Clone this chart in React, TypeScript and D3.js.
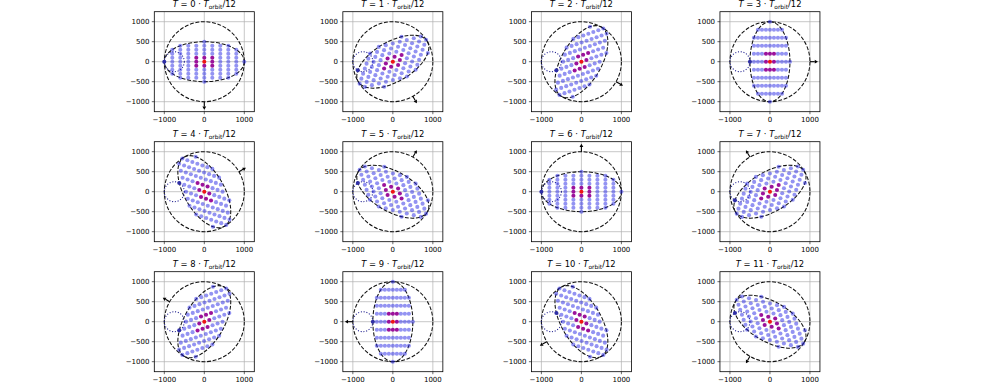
import React from 'react';
import * as d3 from 'd3';

// snapshots: T = k * T_orbit / 12
const steps = [0, 1, 2, 3, 4, 5, 6, 7, 8, 9, 10, 11];
// orientation of the tidal bulge (major axis), degrees
const bulgeAngleDeg = [0, 30, 60, 90, 120, 150, 180, 210, 240, 270, 300, 330];
// direction of the arrow on the big circle, degrees
const arrowAngleDeg = [-90, -60, -30, 0, 30, 60, 90, 120, 150, 180, 210, 240];

// reference lattice of material points (inside the undeformed circle)
const latticeX = [-1000, -800, -600, -400, -200, 0, 200, 400, 600, 800, 1000];
const latticeY = [-1000, -800, -600, -400, -200, 0, 200, 400, 600, 800, 1000];
const bodyRadius = 1000;
const semiMajor = 1000;
const semiMinor = 500;
const tracerPoint = [-1000, 0];
const coreHalf = 200;

const arrowInner = 1000;
const arrowOuter = 1200;

const xTicks = [-1000, 0, 1000];
const yTicks = [-1000, -500, 0, 500, 1000];
const axisDomain = [-1250, 1250];

const W = 988;
const H = 392;
const panelSize = 100;
const left0 = 154.3;
const colStep = 188.55;
const top0 = 11.7;
const rowStep = 130;

const FONT = 'DejaVu Sans, sans-serif';
const minus = (v: number) => (v < 0 ? '\u2212' + Math.abs(v) : String(v));

const s = (semiMajor + semiMinor) / (2 * bodyRadius);
const e = (semiMajor - semiMinor) / (2 * bodyRadius);

const refPoints: { x: number; y: number; kind: string }[] = [];
latticeX.forEach((x) =>
  latticeY.forEach((y) => {
    if (x * x + y * y <= bodyRadius * bodyRadius + 1) {
      let kind = 'body';
      if (x === 0 && y === 0) kind = 'center';
      else if (Math.abs(x) <= coreHalf && Math.abs(y) <= coreHalf) kind = 'core';
      else if (x === tracerPoint[0] && y === tracerPoint[1]) kind = 'tracer';
      refPoints.push({ x, y, kind });
    }
  })
);
const order: Record<string, number> = { body: 0, core: 1, center: 2, tracer: 3 };
refPoints.sort((a, b) => order[a.kind] - order[b.kind]);

const dotColor: Record<string, string> = {
  body: 'rgba(40,40,230,0.5)',
  core: '#9b129b',
  center: '#ee1515',
  tracer: '#2e2ea6',
};

function deform(x: number, y: number, thetaDeg: number) {
  const t = (2 * thetaDeg * Math.PI) / 180;
  const c = Math.cos(t);
  const sn = Math.sin(t);
  return [s * x + e * (c * x + sn * y), s * y + e * (sn * x - c * y)];
}

function Panel({ k, idx }: { k: number; idx: number }) {
  const col = idx % 4;
  const row = Math.floor(idx / 4);
  const left = left0 + col * colStep;
  const top = top0 + row * rowStep;
  const x = d3.scaleLinear().domain(axisDomain).range([left, left + panelSize]);
  const y = d3.scaleLinear().domain(axisDomain).range([top + panelSize, top]);
  const theta = bulgeAngleDeg[idx];
  const unit = x(1000) - x(0);
  const pxPerUnit = unit / 1000;

  const tracerCx = s * tracerPoint[0];
  const tracerCy = s * tracerPoint[1];
  const tracerR = e * Math.hypot(tracerPoint[0], tracerPoint[1]);

  const a = (arrowAngleDeg[idx] * Math.PI) / 180;
  const x1 = x(arrowInner * Math.cos(a));
  const y1 = y(arrowInner * Math.sin(a));
  const x2 = x(arrowOuter * Math.cos(a));
  const y2 = y(arrowOuter * Math.sin(a));
  const ux = Math.cos(a);
  const uy = -Math.sin(a);
  const hl = 3.2;
  const hw = 1.9;
  const bx = x2 - ux * hl;
  const by = y2 - uy * hl;
  const head = `M${x2},${y2}L${bx - uy * hw},${by + ux * hw}L${bx + uy * hw},${by - ux * hw}Z`;

  const clipId = `clip${idx}`;
  return (
    <g>
      <defs>
        <clipPath id={clipId}>
          <rect x={left} y={top} width={panelSize} height={panelSize} />
        </clipPath>
      </defs>
      <g stroke="#b0b0b0" strokeWidth={0.7}>
        {xTicks.map((t) => (
          <line key={'gx' + t} x1={x(t)} x2={x(t)} y1={top} y2={top + panelSize} />
        ))}
        {yTicks.map((t) => (
          <line key={'gy' + t} x1={left} x2={left + panelSize} y1={y(t)} y2={y(t)} />
        ))}
      </g>
      <g clipPath={`url(#${clipId})`}>
        <circle cx={x(0)} cy={y(0)} r={bodyRadius * pxPerUnit} fill="none" stroke="#111" strokeWidth={1.05} strokeDasharray="3.9 1.7" />
        <ellipse
          cx={x(0)}
          cy={y(0)}
          rx={semiMajor * pxPerUnit}
          ry={semiMinor * pxPerUnit}
          transform={`rotate(${-theta} ${x(0)} ${y(0)})`}
          fill="none"
          stroke="#111"
          strokeWidth={1.05}
          strokeDasharray="3.9 1.7"
        />
        <circle cx={x(tracerCx)} cy={y(tracerCy)} r={tracerR * pxPerUnit} fill="none" stroke="#1a1a8c" strokeWidth={1.05} strokeDasharray="1.05 1.75" />
        {refPoints.map((p, i) => {
          const [px, py] = deform(p.x, p.y, theta);
          return <circle key={i} cx={x(px)} cy={y(py)} r={2.05} fill={dotColor[p.kind]} />;
        })}
      </g>
      <line x1={x1} y1={y1} x2={bx} y2={by} stroke="#000" strokeWidth={1.1} />
      <path d={head} fill="#000" />
      <rect x={left} y={top} width={panelSize} height={panelSize} fill="none" stroke="#000" strokeWidth={0.8} />
      <g fontFamily={FONT} fontSize={7} fill="#000">
        {xTicks.map((t) => (
          <g key={'xt' + t}>
            <line x1={x(t)} x2={x(t)} y1={top + panelSize} y2={top + panelSize + 2.5} stroke="#000" strokeWidth={0.6} />
            <text x={x(t)} y={top + panelSize + 10.3} textAnchor="middle">{minus(t)}</text>
          </g>
        ))}
        {yTicks.map((t) => (
          <g key={'yt' + t}>
            <line x1={left - 2.5} x2={left} y1={y(t)} y2={y(t)} stroke="#000" strokeWidth={0.6} />
            <text x={left - 4.9} y={y(t) + 2.5} textAnchor="end">{minus(t)}</text>
          </g>
        ))}
      </g>
      <text x={left + panelSize / 2} y={top - 4.4} textAnchor="middle" fontFamily={FONT} fontSize={8.4} fill="#000">
        <tspan fontStyle="italic">T</tspan>
        {` = ${k} \u00b7 `}
        <tspan fontStyle="italic">T</tspan>
        <tspan dy={1.8} fontSize={5.9}>orbit</tspan>
        <tspan dy={-1.8}>/12</tspan>
      </text>
    </g>
  );
}

export default function App() {
  return (
    <svg
      width={W}
      height={H}
      viewBox={`0 0 ${W} ${H}`}
      style={{ position: 'absolute', left: 0, top: 0, background: '#fff' }}
    >
      <rect width={W} height={H} fill="#fff" />
      {steps.map((k, i) => (
        <Panel key={k} k={k} idx={i} />
      ))}
    </svg>
  );
}
